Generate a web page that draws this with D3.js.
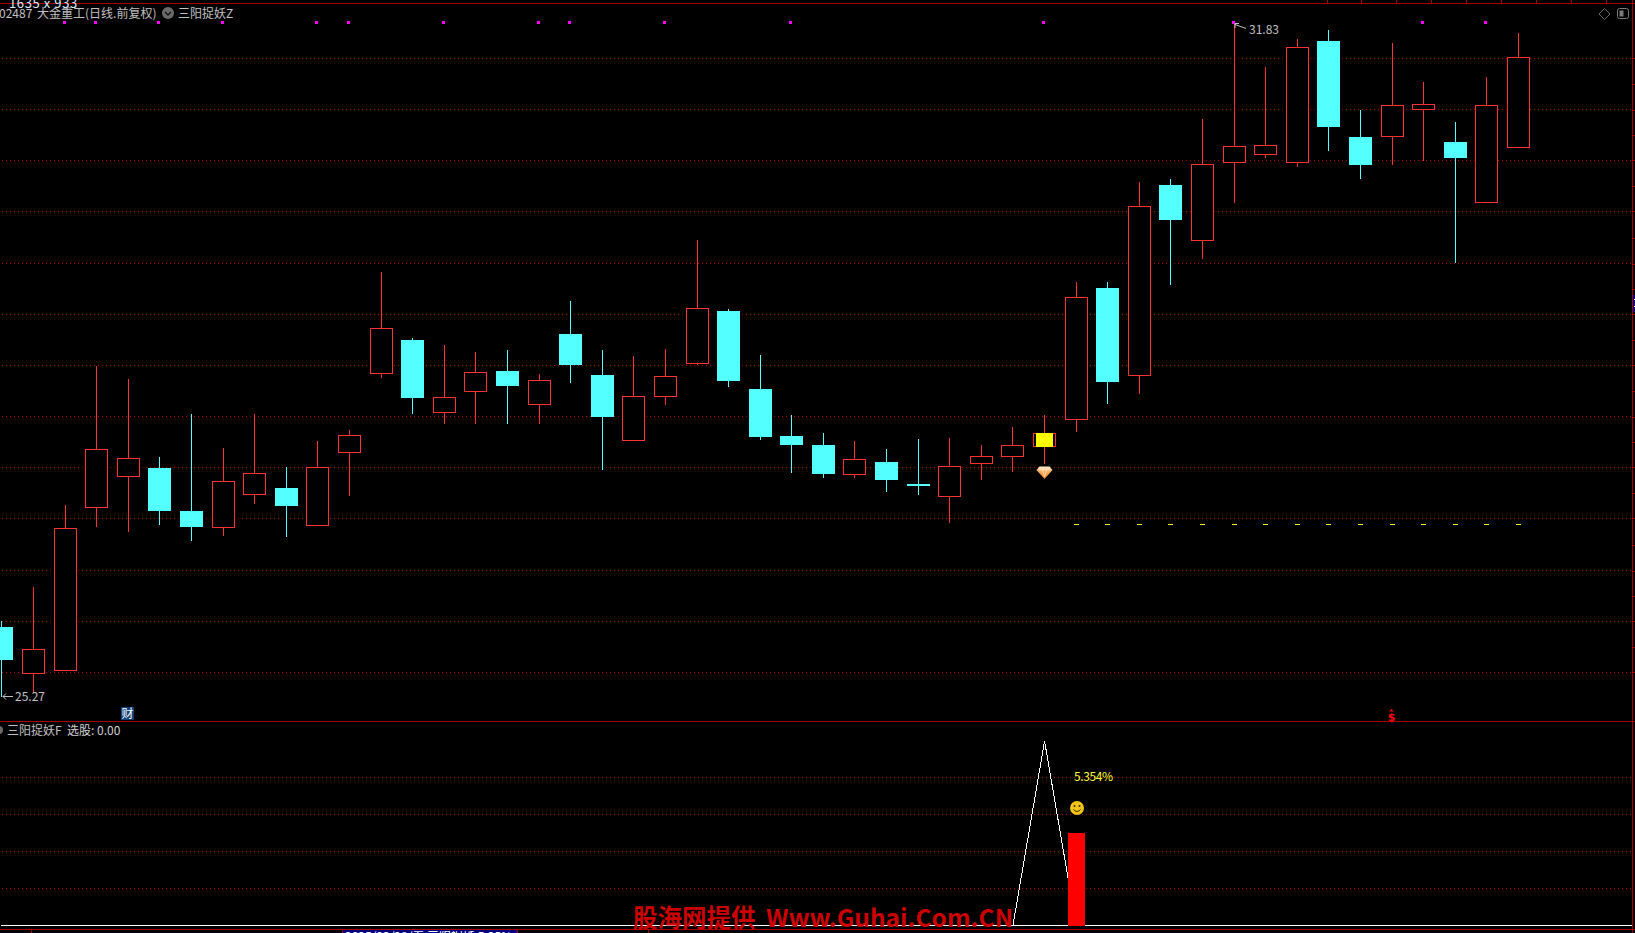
<!DOCTYPE html>
<html><head><meta charset="utf-8">
<style>html,body{margin:0;padding:0;background:#000;overflow:hidden}svg{display:block}
text{font-family:"Noto Sans CJK SC","Noto Sans",sans-serif;font-size:12px;fill:#c0c0c0}</style>
<script src="https://cdn.jsdelivr.net/npm/d3@7/dist/d3.min.js"></script>
</head><body><svg id="c" width="1635" height="933"></svg>
<script>
const opens=[25.95,25.50,25.53,27.12,27.42,27.50,27.08,26.92,27.24,27.31,26.94,27.65,28.42,28.75,28.04,28.25,28.45,28.12,28.81,28.41,27.77,28.20,28.52,29.03,28.27,27.81,27.72,27.44,27.56,27.34,27.22,27.55,27.61,27.71,27.97,29.25,28.40,30.26,29.72,30.48,30.56,30.48,31.66,30.72,30.73,30.99,30.68,30.09,30.62];
const highs=[26.01,26.34,27.14,28.49,28.37,27.61,28.03,27.70,28.03,27.51,27.76,27.87,29.41,28.77,28.70,28.63,28.65,28.42,29.13,28.65,28.59,28.66,29.72,29.05,28.60,28.02,27.84,27.76,27.69,27.78,27.79,27.72,27.90,28.02,29.31,29.31,30.29,30.32,30.90,31.83,31.41,31.68,31.77,30.99,31.64,31.26,30.87,31.31,31.74];
const lows=[25.27,25.31,25.53,26.93,26.88,26.95,26.79,26.84,27.15,26.83,26.94,27.23,28.38,28.03,27.93,27.93,27.93,27.93,28.33,27.48,27.77,28.11,28.50,28.29,27.77,27.45,27.40,27.40,27.27,27.24,26.96,27.38,27.46,27.54,27.85,28.12,28.22,29.28,29.54,30.08,30.52,30.43,30.59,30.32,30.45,30.49,29.50,30.09,30.62];
const closes=[25.63,25.73,26.91,27.68,27.59,27.08,26.93,27.37,27.45,27.13,27.51,27.82,28.86,28.18,28.19,28.43,28.30,28.35,28.50,28.00,28.20,28.39,29.06,28.35,27.80,27.72,27.44,27.58,27.38,27.33,27.52,27.61,27.72,27.84,29.16,28.34,30.05,29.92,30.46,30.63,30.64,31.60,30.82,30.45,31.03,31.04,30.52,31.03,31.50];
const gridPrices=[31.49,30.99,30.50,30.00,29.49,29.00,28.50,28.00,27.51,27.01,26.50,26.01,25.51];
const markerIdx=[2,3,5,7,10,11,14,17,18,21,25,33,39,45,47];
const supportIdx=[34,35,36,37,38,39,40,41,42,43,44,45,46,47,48];
const supportPrice=26.95;
const signalIdx=33, barIdx=34, barValue=0.5;
const pickValues=opens.map((_,i)=>i===signalIdx?1:0);
const subGrid=[0.2,0.4,0.6,0.8];
const RED="#ff3232",CYAN="#54ffff",BORDER="#a80000",GRID="#a80000";

const W=1635,H=933,svg=d3.select("#c");
const x=d3.scaleLinear().domain([0,48]).range([1.9,1518.5]);
const y=d3.scaleLinear().domain([25.27,31.83]).range([697,23.5]);
const ySub=d3.scaleLinear().domain([0,1]).range([925.3,741]);
const px=i=>Math.floor(x(i));
const R=Math.round;
const row=v=>Math.floor(y(v)+.15);
const layer=svg.append("g").attr("shape-rendering","crispEdges");

// grids
layer.append("g").selectAll("line").data(gridPrices).join("line")
 .attr("x1",2).attr("x2",1632).attr("y1",d=>row(d)+.5).attr("y2",d=>row(d)+.5)
 .attr("stroke",GRID).attr("stroke-dasharray","1 3");
layer.append("g").selectAll("line").data(subGrid).join("line")
 .attr("x1",2).attr("x2",1632).attr("y1",d=>Math.floor(ySub(d))+.5).attr("y2",d=>Math.floor(ySub(d))+.5)
 .attr("stroke",GRID).attr("stroke-dasharray","1 3");

// frame
[[0,1635,3.5,3.5],[0,1635,721.5,721.5],[0,1635,929.5,929.5],[1632.5,1632.5,0,933]].forEach(l=>
 layer.append("line").attr("x1",l[0]).attr("x2",l[1]).attr("y1",l[2]).attr("y2",l[3]).attr("stroke",BORDER));
// top ticks
[1327,1361,1396,1431,1466,1501,1536,1571,1606].forEach(t=>layer.append("line").attr("x1",t+.5).attr("x2",t+.5).attr("y1",0).attr("y2",3).attr("stroke",BORDER));
[31,648].forEach(t=>layer.append("line").attr("x1",t+.5).attr("x2",t+.5).attr("y1",930).attr("y2",933).attr("stroke",BORDER));
// right axis ticks
const yTicks=d3.range(0,gridPrices.length*2-1).map(k=>k%2?(gridPrices[(k-1)/2]+gridPrices[(k+1)/2])/2:gridPrices[k/2]);
const ax=svg.append("g").attr("transform","translate(1632.5,0)").attr("shape-rendering","crispEdges")
 .call(d3.axisRight(y).tickValues(yTicks).tickSize(3).tickFormat(""));
ax.selectAll("line").attr("stroke",BORDER); ax.select(".domain").remove();
// right edge blue flag
layer.append("rect").attr("x",1633).attr("y",295).attr("width",2).attr("height",17).attr("fill","#000080");
layer.append("rect").attr("x",1634).attr("y",299).attr("width",1).attr("height",1).attr("fill","#fff");
layer.append("rect").attr("x",1634).attr("y",306).attr("width",1).attr("height",1).attr("fill","#fff");

// candles
const data=opens.map((o,i)=>({i,o,h:highs[i],l:lows[i],c:closes[i],up:closes[i]>o}));
const cg=layer.append("g").selectAll("g").data(data).join("g");
cg.append("line").attr("x1",d=>px(d.i)+.5).attr("x2",d=>px(d.i)+.5)
 .attr("y1",d=>R(y(d.h))).attr("y2",d=>R(y(d.l)))
 .attr("stroke",d=>d.up?RED:CYAN);
cg.filter(d=>d.up).append("rect").attr("x",d=>px(d.i)-10.5).attr("width",22)
 .attr("y",d=>row(d.c)+.5).attr("height",d=>Math.max(1,row(d.o)-row(d.c)))
 .attr("fill","#000").attr("stroke",RED);
cg.filter(d=>!d.up).append("rect").attr("x",d=>px(d.i)-11).attr("width",23)
 .attr("y",d=>R(y(d.o))).attr("height",d=>Math.max(2,R(y(d.c))-R(y(d.o))))
 .attr("fill",CYAN);
// signal candle highlight
layer.append("rect").attr("x",px(signalIdx)-8).attr("width",17)
 .attr("y",row(closes[signalIdx])).attr("height",row(opens[signalIdx])-row(closes[signalIdx])+1).attr("fill","#ffff00");

// magenta markers
layer.append("g").selectAll("rect").data(markerIdx).join("rect")
 .attr("x",d=>px(d)-2).attr("y",21).attr("width",3).attr("height",3).attr("fill","#ff00ff");
// support dashes
layer.append("g").selectAll("rect").data(supportIdx).join("rect")
 .attr("x",d=>px(d)-2).attr("width",5).attr("y",row(supportPrice)).attr("height",1).attr("fill","#ffff00");

// diamond icon
const defs=svg.append("defs");
const gr=defs.append("linearGradient").attr("id","dm").attr("x1",0).attr("x2",0).attr("y1",0).attr("y2",1);
gr.append("stop").attr("offset",0).attr("stop-color","#fff0d8");
gr.append("stop").attr("offset",.4).attr("stop-color","#ffb060");
gr.append("stop").attr("offset",1).attr("stop-color","#e87818");
const dm=svg.append("g").attr("transform",`translate(${px(signalIdx)+.5},473)`);
dm.append("path").attr("d","M-5,-6.5H5L8,-3L0,6L-8,-3Z").attr("fill","url(#dm)");
dm.append("path").attr("d","M-5,-3.5H5M-2,-3L0,4L2,-3").attr("fill","none").attr("stroke","#ffe8c8").attr("stroke-width",.8);

// price labels
const pl=svg.append("g");
pl.append("text").attr("x",15).attr("y",701).text(lows[0].toFixed(2));
pl.append("path").attr("d","M13,696.5H3M6,693.5L3,696.5L6,699.5").attr("fill","none").attr("stroke","#c0c0c0");
pl.append("text").attr("x",1249).attr("y",34).text(highs[39].toFixed(2));
pl.append("path").attr("d","M1246,28.5L1235,24.5M1239,23.5H1235V28").attr("fill","none").attr("stroke","#c0c0c0");

// header
const clipTop=defs.append("clipPath").attr("id","ct"); clipTop.append("rect").attr("width",300).attr("height",9);
svg.append("text").attr("clip-path","url(#ct)").attr("x",9).attr("y",8).style("fill","#d8ecff").style("font-size","13px").attr("letter-spacing","0.6").attr("xml:space","preserve").text("1635 x 933");
svg.append("text").attr("x",-1).attr("y",18).text("02487");
svg.append("text").attr("x",37).attr("y",18).text("大金重工(日线.前复权)");
svg.append("circle").attr("cx",168).attr("cy",13).attr("r",6).attr("fill","#6a6a6a");
svg.append("path").attr("d","M165,12L168,15L171,12").attr("fill","none").attr("stroke","#111").attr("stroke-width",1.3);
svg.append("text").attr("x",178).attr("y",18).text("三阳捉妖Z");
// top right icons
svg.append("path").attr("d","M1604.5,8.5L1610,14L1604.5,19.5L1599,14Z").attr("fill","none").attr("stroke","#6a6a6a");
svg.append("rect").attr("x",1617.5).attr("y",8.5).attr("width",11).attr("height",10).attr("rx",2).attr("fill","none").attr("stroke","#7a7a7a");
svg.append("rect").attr("x",1619.5).attr("y",10.5).attr("width",4).attr("height",6).attr("fill","#7a7a7a");

// event tags
svg.append("rect").attr("x",121).attr("y",707).attr("width",13).attr("height",13).attr("fill","#0f3f78");
svg.append("text").attr("x",121.5).attr("y",718).style("fill","#fff").text("财");
svg.append("text").attr("x",px(44)-.5).attr("y",720.5).attr("text-anchor","middle").style("fill","#ff0000").style("font-weight","700").style("font-size","11px").style("font-family","'DejaVu Sans'").text("$");
svg.append("path").attr("d",`M${px(44)-3},711.5L${px(44)-.5},709L${px(44)+2},711.5Z`).attr("fill","#ff0000");

// sub panel header
svg.append("circle").attr("cx",-1).attr("cy",730).attr("r",4).attr("fill","#6a6a6a");
svg.append("text").attr("x",7).attr("y",735).text("三阳捉妖F");
svg.append("text").attr("x",67).attr("y",735).style("fill","#d0d0d0").text("选股: 0.00");

// sub panel series
svg.append("line").attr("x1",1).attr("x2",1632).attr("y1",925.5).attr("y2",925.5).attr("stroke","#fff").attr("shape-rendering","crispEdges");
svg.append("path").datum(pickValues)
 .attr("d",d3.line().x((d,i)=>x(i)).y(d=>ySub(d)))
 .attr("fill","none").attr("stroke","#fff").attr("stroke-width",1).attr("shape-rendering","crispEdges");
svg.append("rect").attr("x",px(barIdx)-8).attr("width",17)
 .attr("y",R(ySub(barValue))).attr("height",R(ySub(0))-R(ySub(barValue))+1).attr("fill","#ff0000").attr("shape-rendering","crispEdges");
svg.append("text").attr("x",1074).attr("y",781).style("fill","#ffff33").attr("textLength",39).text("5.354%");
const sm=svg.append("g").attr("transform",`translate(${px(barIdx)+1},808)`);
sm.append("circle").attr("r",7).attr("fill","#f0c418");
sm.append("circle").attr("cx",-2.5).attr("cy",-2).attr("r",1).attr("fill","#3a2a00");
sm.append("circle").attr("cx",2.5).attr("cy",-2).attr("r",1).attr("fill","#3a2a00");
sm.append("path").attr("d","M-3.5,1.5Q0,5.5,3.5,1.5").attr("fill","none").attr("stroke","#3a2a00");

// date flag strip at the bottom
svg.append("rect").attr("x",343).attr("y",930).attr("width",175).attr("height",3).attr("fill","#000080");
svg.append("rect").attr("x",342).attr("y",930).attr("width",1).attr("height",3).attr("fill",BORDER);
svg.append("rect").attr("x",517).attr("y",930).attr("width",1).attr("height",3).attr("fill",BORDER);
const cb=defs.append("clipPath").attr("id","cb"); cb.append("rect").attr("y",931).attr("width",1635).attr("height",2);
svg.append("text").attr("clip-path","url(#cb)").attr("x",345).attr("y",941).style("fill","#fff").text("2025/03/28/五 三阳捉妖 5.35%");

// watermark
svg.append("text").attr("x",633).attr("y",927).style("fill","#cc0000").style("font-size","24.5px").style("font-weight","700").text("股海网提供");
svg.append("text").attr("x",766).attr("y",927).style("fill","#cc0000").style("font-size","24.5px").style("font-weight","700").attr("textLength",247).text("Www.Guhai.Com.CN");
</script></body></html>
